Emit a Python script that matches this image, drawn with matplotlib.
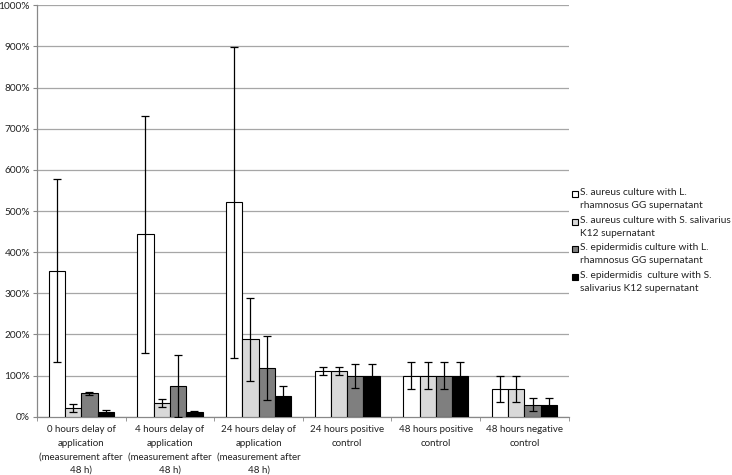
import matplotlib
matplotlib.use("Agg")
import matplotlib.pyplot as plt
import numpy as np
from matplotlib.ticker import FuncFormatter, FixedLocator
from matplotlib.patches import Rectangle

categories = [
    "0 hours delay of\napplication\n(measurement after\n48 h)",
    "4 hours delay of\napplication\n(measurement after\n48 h)",
    "24 hours delay of\napplication\n(measurement after\n48 h)",
    "24 hours positive\ncontrol",
    "48 hours positive\ncontrol",
    "48 hours negative\ncontrol",
]
series_names = [
    "S. aureus culture with L.\nrhamnosus GG supernatant",
    "S. aureus culture with S. salivarius\nK12 supernatant",
    "S. epidermidis culture with L.\nrhamnosus GG supernatant",
    "S. epidermidis  culture with S.\nsalivarius K12 supernatant",
]
aureus_lgg = [355, 443, 521, 112, 100, 67]
aureus_k12 = [22, 33, 188, 112, 100, 67]
epi_lgg = [57, 74, 118, 100, 100, 29]
epi_k12 = [12, 12, 50, 100, 100, 29]
aureus_lgg_err = [222, 289, 378, 10, 33, 32]
aureus_k12_err = [10, 10, 100, 10, 33, 32]
epi_lgg_err = [4, 75, 78, 29, 33, 16]
epi_k12_err = [4, 3, 24, 29, 33, 16]

values = [aureus_lgg, aureus_k12, epi_lgg, epi_k12]
errors = [aureus_lgg_err, aureus_k12_err, epi_lgg_err, epi_k12_err]
colors = ["#ffffff", "#d9d9d9", "#7f7f7f", "#000000"]

plt.rcParams['font.family'] = ['Lato', 'DejaVu Sans']
W, H = 732, 475
fig = plt.figure(figsize=(W / 100, H / 100), dpi=100)
ax = fig.add_axes([0.0505, 0.1227, 0.7265, 0.8661])

x = np.arange(len(categories))
w = 0.184
for i, (v, e, c) in enumerate(zip(values, errors, colors)):
    pos = x + (i - 1.5) * w
    ax.bar(pos, v, width=w, color=c, edgecolor="black", linewidth=0.8, zorder=3)
    ax.errorbar(pos, v, yerr=e, fmt="none", ecolor="black", elinewidth=0.9,
                capsize=3, capthick=0.9, zorder=4)

ax.set_xlim(-0.5, len(categories) - 0.5)
ax.set_ylim(0, 1000)
ax.set_yticks(np.arange(0, 1001, 100))
ax.yaxis.set_major_formatter(FuncFormatter(lambda v, p: f"{int(v)}%"))
ax.grid(axis="y", color="#a6a6a6", linewidth=0.9, zorder=0)
ax.set_axisbelow(True)

ax.set_xticks(x)
ax.set_xticklabels(categories, fontsize=7.0, linespacing=1.65, color="#222222")
ax.xaxis.set_minor_locator(FixedLocator(np.arange(-0.5, len(categories), 1.0)))
ax.tick_params(axis="x", which="major", length=0, pad=6)
ax.tick_params(axis="x", which="minor", length=3, color="#888888")
ax.tick_params(axis="y", length=3, color="#888888", labelsize=7.3, pad=2,
               labelcolor="#222222")

for s in ["top", "right"]:
    ax.spines[s].set_visible(False)
for s in ["left", "bottom"]:
    ax.spines[s].set_color("#888888")
    ax.spines[s].set_linewidth(0.9)

# legend: square handle aligned with the first line of each two-line label
leg_x = 572
leg_y0 = 194
leg_step = 27.7
sq = 6
for i, (name, c) in enumerate(zip(series_names, colors)):
    yc = leg_y0 + i * leg_step
    fig.patches.append(Rectangle(((leg_x) / W, 1 - (yc + sq / 2) / H), sq / W, sq / H,
                                 transform=fig.transFigure, facecolor=c,
                                 edgecolor="black", linewidth=0.8))
    fig.text((leg_x + sq + 2) / W, 1 - (yc - 6) / H, name, fontsize=7.3,
             va="top", ha="left", linespacing=1.55, color="#222222")

fig.savefig("out.png", dpi=100)
